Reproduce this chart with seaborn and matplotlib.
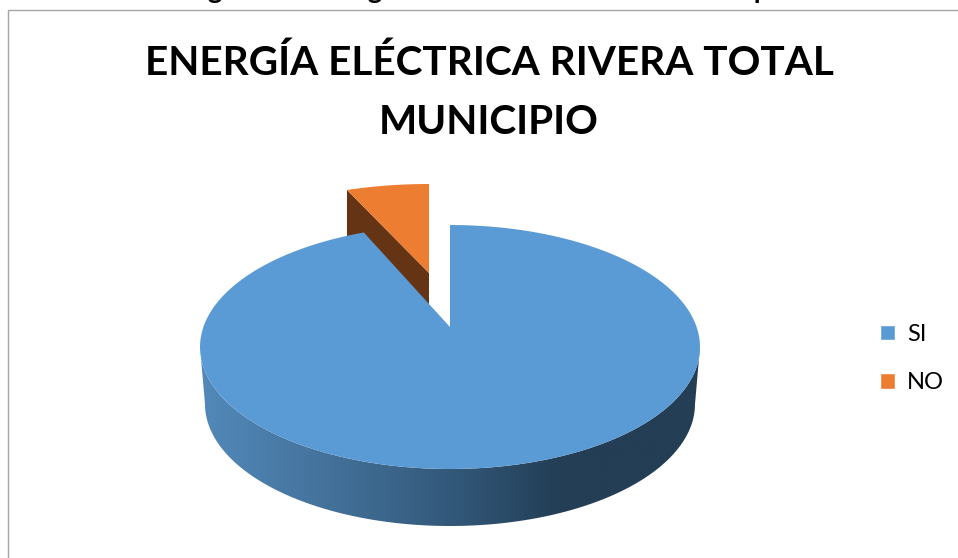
"""
Exploded 3D style pie chart, drawn with seaborn theme and matplotlib patches.
"""
import numpy as np
import matplotlib
matplotlib.use('Agg')
import matplotlib.pyplot as plt
from matplotlib.colors import LinearSegmentedColormap
from matplotlib.patches import Patch, Polygon, Rectangle
import seaborn as sns

# Chart data
categories = ['SI', 'NO']
values = [94.4, 5.6]
chart_title = 'ENERGÍA ELÉCTRICA RIVERA TOTAL\nMUNICIPIO'
caption = 'Figura 12. Energía eléctrica Rivera Total Municipio'

# Set the theme
sns.set_theme(style='white')
plt.rcParams['font.family'] = ['Lato', 'DejaVu Sans']
colors = sns.color_palette(['#5B9BD5', '#ED7D31'])


def rim_points(start, end, center, radii):
    """
    Points of an elliptical rim, angles in degrees clockwise from the top.
    """
    angles = np.radians(np.linspace(start, end, 200))
    return np.column_stack((center[0] + radii[0] * np.sin(angles),
                            center[1] - radii[1] * np.cos(angles)))


# Setup figure, the axes work in pixels of the picture
fig = plt.figure(figsize=(9.58, 5.58), dpi=100)
ax = fig.add_axes([0, 0, 1, 1])
ax.set_axis_off()

# Angles of the slices
si_sweep = 360 * values[0] / sum(values)

# Plot the side wall of the big slice with a gradient
wall_top = rim_points(90, 270, (450, 347), (250, 122))
wall_bottom = rim_points(270, 90, (450, 404), (245, 122))
wall = Polygon(np.vstack((wall_top, wall_bottom)), closed=True,
               facecolor='none', edgecolor='none')
ax.add_patch(wall)
side_cmap = LinearSegmentedColormap.from_list(
    'side', [(0.0, '#5289BA'), (0.25, '#44729B'), (0.5, '#33597A'),
             (0.72, '#233E55'), (1.0, '#233E55')])
gradient = ax.imshow(np.linspace(0, 1, 256).reshape(1, -1), cmap=side_cmap,
                     extent=(201, 700, 526, 347), aspect='auto', zorder=1)
gradient.set_clip_path(wall)

# Plot the small slice, first its dark inner face and then its top
no_center = (429, 282)
no_radii = (238, 98)
no_rim = rim_points(si_sweep, 360, no_center, no_radii)
no_apex = np.array([429, 273])
ax.add_patch(Polygon([no_rim[0], no_apex, no_apex + (0, 57), no_rim[0] + (0, 57)],
                     closed=True, facecolor='#643414', edgecolor='none', zorder=2))
ax.add_patch(Polygon(np.vstack((no_rim, no_apex)), closed=True,
                     facecolor=colors[1], edgecolor='none', zorder=3))

# Plot the top of the big slice
si_rim = rim_points(0, si_sweep, (450, 347), (250, 122))
ax.add_patch(Polygon(np.vstack((si_rim, (450, 327))), closed=True,
                     facecolor=colors[0], edgecolor='none', zorder=4))

# Frame of the chart area, open at the right and the bottom
ax.add_patch(Rectangle((8, 10), 1000, 600, facecolor='none', edgecolor='#A6A6A6',
                       linewidth=1.0, zorder=0))

# Set limits after the image
ax.set_xlim(0, 958)
ax.set_ylim(558, 0)

# Set title and the clipped caption above the frame
ax.text(489, 92.5, chart_title, ha='center', va='center', fontsize=29.2,
        fontweight='bold', color='black', linespacing=1.73)
ax.text(489, -1, caption, ha='center', va='baseline', fontsize=19.5,
        fontweight='bold', color='black', clip_on=True)

# Set the legend
handles = [Patch(facecolor=colors[0], label=categories[0]),
           Patch(facecolor=colors[1], label=categories[1])]
ax.legend(handles=handles, loc='center left', bbox_to_anchor=(880, 358.5),
          bbox_transform=ax.transData, frameon=False, fontsize=17, handlelength=0.62,
          handleheight=0.62, handletextpad=0.53, labelspacing=1.16, borderpad=0,
          borderaxespad=0, labelcolor='black')

fig.savefig('out.png', dpi=100)
